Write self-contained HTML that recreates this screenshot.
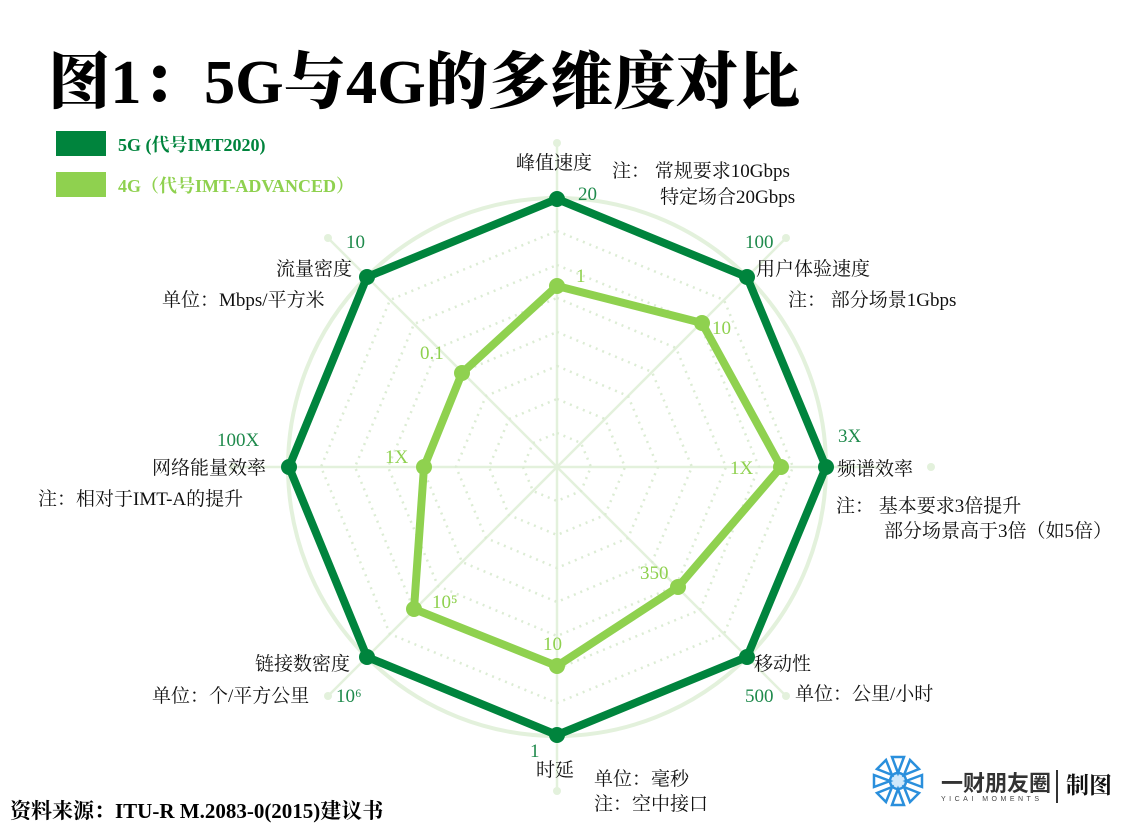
<!DOCTYPE html>
<html><head><meta charset="utf-8"><style>
body{margin:0;background:#fff;}
svg{display:block;font-family:"Liberation Serif","Noto Serif CJK SC",serif;}
</style></head><body>
<svg width="1134" height="832" viewBox="0 0 1134 832">
<rect width="1134" height="832" fill="#fff"/>
<text x="48" y="103" font-size="62" font-weight="900" fill="#000" font-family="'Liberation Serif','Noto Serif CJK SC',serif" textLength="752" lengthAdjust="spacingAndGlyphs">图1：5G与4G的多维度对比</text>
<rect x="56" y="131" width="50" height="25" fill="#00843d"/>
<text x="118" y="151" font-size="18" font-weight="bold" fill="#00843d">5G (代号IMT2020)</text>
<rect x="56" y="172" width="50" height="25" fill="#8fd14f"/>
<text x="118" y="192" font-size="18" font-weight="bold" fill="#8fd14f">4G（代号IMT-ADVANCED）</text>
<g transform="translate(557,467)">
<circle r="269" fill="none" stroke="#e3f1dc" stroke-width="4"/>
<g stroke="#e3f1dc" stroke-width="2.5">
<line x1="0" y1="-324" x2="0" y2="324"/><line x1="-324" y1="0" x2="324" y2="0"/>
<line x1="-229" y1="-229" x2="229" y2="229"/><line x1="-229" y1="229" x2="229" y2="-229"/>
</g>
<g fill="#e3f1dc"><circle cx="0" cy="-324" r="4"/><circle cx="0" cy="324" r="4"/><circle cx="-324" cy="0" r="4"/><circle cx="374" cy="0" r="4"/><circle cx="-229" cy="-229" r="4"/><circle cx="229" cy="229" r="4"/><circle cx="-229" cy="229" r="4"/><circle cx="229" cy="-229" r="4"/></g>
<g fill="none" stroke="#dcecd4" stroke-width="2.5" stroke-dasharray="2 5">
<polygon points="0,-34 24,-24 34,0 24,24 0,34 -24,24 -34,0 -24,-24"/>
<polygon points="0,-68 48,-48 68,0 48,48 0,68 -48,48 -68,0 -48,-48"/>
<polygon points="0,-101 71,-71 101,0 71,71 0,101 -71,71 -101,0 -71,-71"/>
<polygon points="0,-135 95,-95 135,0 95,95 0,135 -95,95 -135,0 -95,-95"/>
<polygon points="0,-169 119,-119 169,0 119,119 0,169 -119,119 -169,0 -119,-119"/>
<polygon points="0,-202 143,-143 202,0 143,143 0,202 -143,143 -202,0 -143,-143"/>
<polygon points="0,-236 167,-167 236,0 167,167 0,236 -167,167 -236,0 -167,-167"/>
</g>
<polygon points="0,-268 190,-190 269,0 190,190 0,268 -190,190 -268,0 -190,-190" fill="none" stroke="#00843d" stroke-width="8" stroke-linejoin="round"/>
<g fill="#00843d"><circle cx="0" cy="-268" r="8"/><circle cx="190" cy="-190" r="8"/><circle cx="269" cy="0" r="8"/><circle cx="190" cy="190" r="8"/><circle cx="0" cy="268" r="8"/><circle cx="-190" cy="190" r="8"/><circle cx="-268" cy="0" r="8"/><circle cx="-190" cy="-190" r="8"/></g>
<polygon points="0,-181 145,-144 224,0 121,120 0,199 -143,142 -133,0 -95,-94" fill="none" stroke="#8fd14f" stroke-width="8" stroke-linejoin="round"/>
<g fill="#8fd14f"><circle cx="0" cy="-181" r="8"/><circle cx="145" cy="-144" r="8"/><circle cx="224" cy="0" r="8"/><circle cx="121" cy="120" r="8"/><circle cx="0" cy="199" r="8"/><circle cx="-143" cy="142" r="8"/><circle cx="-133" cy="0" r="8"/><circle cx="-95" cy="-94" r="8"/></g>
</g>
<g font-size="19" fill="#1f8a4c">
<text x="578" y="200">20</text><text x="745" y="248">100</text><text x="838" y="442">3X</text><text x="745" y="702">500</text><text x="530" y="757">1</text><text x="336" y="702">10⁶</text><text x="217" y="446">100X</text><text x="346" y="248">10</text>
</g>
<g font-size="19" fill="#8fd14f">
<text x="576" y="282">1</text><text x="712" y="334">10</text><text x="730" y="474">1X</text><text x="640" y="579">350</text><text x="543" y="650">10</text><text x="432" y="608">10⁵</text><text x="385" y="463">1X</text><text x="420" y="359">0.1</text>
</g>
<g font-size="19" fill="#111">
<text x="516" y="169">峰值速度</text>
<text x="612" y="177">注：  常规要求10Gbps</text>
<text x="660" y="203">特定场合20Gbps</text>
<text x="756" y="275">用户体验速度</text>
<text x="788" y="306">注：  部分场景1Gbps</text>
<text x="837" y="475">频谱效率</text>
<text x="836" y="512">注：  基本要求3倍提升</text>
<text x="884" y="537">部分场景高于3倍（如5倍）</text>
<text x="754" y="670">移动性</text>
<text x="795" y="700">单位：公里/小时</text>
<text x="536" y="776">时延</text>
<text x="594" y="785">单位：毫秒</text>
<text x="594" y="810">注：空中接口</text>
<text x="255" y="670">链接数密度</text>
<text x="152" y="702">单位：个/平方公里</text>
<text x="152" y="474">网络能量效率</text>
<text x="38" y="505">注：相对于IMT-A的提升</text>
<text x="276" y="275">流量密度</text>
<text x="162" y="306">单位：Mbps/平方米</text>
</g>
<text x="10" y="818" font-size="21" font-weight="bold" fill="#000">资料来源：ITU-R M.2083-0(2015)建议书</text>
<g transform="translate(898,781)" stroke="#2a8fdc" stroke-width="2.5" fill="none">
<circle r="8" fill="#cfe8fb"/>
<g><path d="M0,-8 L-6,-24 L6,-24 Z"/><path d="M0,8 L-6,24 L6,24 Z"/><path d="M-8,0 L-24,-6 L-24,6 Z"/><path d="M8,0 L24,-6 L24,6 Z"/>
<path d="M6,-6 L12,-21 L21,-12 Z"/><path d="M-6,6 L-12,21 L-21,12 Z"/><path d="M-6,-6 L-21,-12 L-12,-21 Z"/><path d="M6,6 L21,12 L12,21 Z"/></g>
</g>
<text x="941" y="791" font-size="22" font-weight="bold" fill="#333" font-family="'Noto Sans CJK SC',sans-serif">一财朋友圈</text>
<text x="941" y="801" font-size="7" fill="#444" letter-spacing="3.5" font-family="Liberation Sans,sans-serif">YICAI MOMENTS</text>
<rect x="1056" y="770" width="2" height="33" fill="#333"/>
<text x="1066" y="793" font-size="23" font-weight="bold" fill="#111">制图</text>
</svg>
</body></html>
